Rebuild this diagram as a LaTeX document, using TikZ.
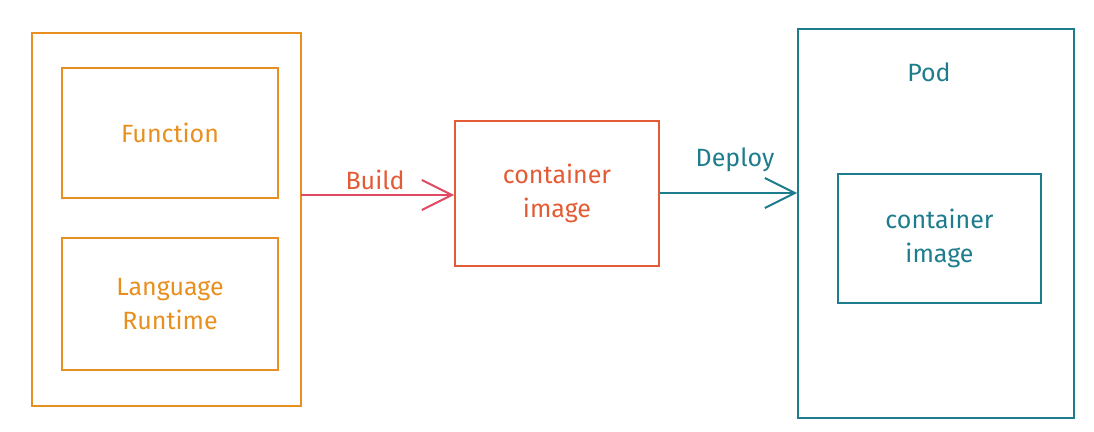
\documentclass[tikz,border=0pt]{standalone}
\usepackage{fontspec}
\setmainfont{Fira Sans}
\definecolor{orng}{HTML}{E8901F}
\definecolor{redbox}{HTML}{E35B34}
\definecolor{buildred}{HTML}{E04A62}
\definecolor{teal}{HTML}{1E7D8C}
\usetikzlibrary{arrows.meta}
\begin{document}
\begin{tikzpicture}[x=1pt,y=-1pt,
  box/.style={draw=#1, line width=2pt, text=#1, align=center, font=\fontsize{25}{34}\selectfont},
  conn/.style={draw=#1, line width=2pt, -{Straight Barb[length=30pt,width=30pt,line width=2pt]}},
  lbl/.style={text=#1, font=\fontsize{25}{30}\selectfont}]
\useasboundingbox (0,0) rectangle (1094,431);
% left group
\draw[orng, line width=2pt] (32,33) rectangle (301,406);
\coordinate (outerR) at (301,195);
\node[box=orng, minimum width=216pt, minimum height=130pt, inner sep=0pt] (func) at (170,133) {Function};
\node[box=orng, minimum width=216pt, minimum height=132pt, inner sep=0pt] (lang) at (170,304) {Language\\Runtime};
% container image
\node[box=redbox, minimum width=204pt, minimum height=145pt, inner sep=0pt] (img) at (557,193.5) {container\\image};
% pod
\node[box=teal, minimum width=276pt, minimum height=389pt, inner sep=0pt] (pod) at (936,223.5) {};
\node[lbl=teal] (podlbl) at (929,72) {Pod};
\node[box=teal, minimum width=203pt, minimum height=129pt, inner sep=0pt] (img2) at (939.5,238.5) {container\\image};
% arrows
\draw[conn=buildred] (outerR) -- (outerR -| img.west);
\node[lbl=redbox] (build) at (375,180) {Build};
\draw[conn=teal] (img.east |- 0,193) -- (pod.west |- 0,193);
\node[lbl=teal] (deploy) at (735,160) {Deploy};
\end{tikzpicture}
\end{document}
